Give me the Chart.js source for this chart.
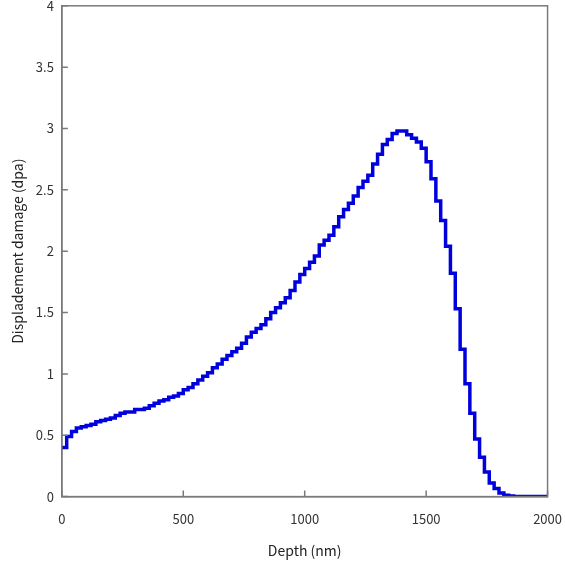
<!DOCTYPE html>
<html>
<head>
<meta charset="utf-8">
<script src="https://cdn.jsdelivr.net/npm/chart.js@4.4.1/dist/chart.umd.min.js"></script>
<style>
  html, body { margin: 0; padding: 0; background: #fff; overflow: hidden; }
  #wrap { position: absolute; left: 0; top: -10px; width: 577px; height: 575px; }
</style>
</head>
<body>
<div id="wrap"><canvas id="chartDpa"></canvas></div>
<script>
// Depth profile of displacement damage, 20 nm bins (bin start depth, nm)
const depth = [
  0, 20, 40, 60, 80, 100, 120, 140, 160, 180,
  200, 220, 240, 260, 280, 300, 320, 340, 360, 380,
  400, 420, 440, 460, 480, 500, 520, 540, 560, 580,
  600, 620, 640, 660, 680, 700, 720, 740, 760, 780,
  800, 820, 840, 860, 880, 900, 920, 940, 960, 980,
  1000, 1020, 1040, 1060, 1080, 1100, 1120, 1140, 1160, 1180,
  1200, 1220, 1240, 1260, 1280, 1300, 1320, 1340, 1360, 1380,
  1400, 1420, 1440, 1460, 1480, 1500, 1520, 1540, 1560, 1580,
  1600, 1620, 1640, 1660, 1680, 1700, 1720, 1740, 1760, 1780,
  1800, 1820, 1840, 1860, 1880, 1900, 1920, 1940, 1960, 1980,
  2000
];

// dpa per bin (last entry closes the final bin at 2000 nm)
const dpa = [
  0.40, 0.49, 0.53, 0.56, 0.57, 0.58, 0.59, 0.61, 0.62, 0.63,
  0.64, 0.66, 0.68, 0.69, 0.69, 0.71, 0.71, 0.72, 0.74, 0.76,
  0.78, 0.79, 0.81, 0.82, 0.84, 0.87, 0.89, 0.92, 0.95, 0.98,
  1.01, 1.05, 1.08, 1.12, 1.15, 1.18, 1.21, 1.25, 1.30, 1.34,
  1.37, 1.40, 1.45, 1.50, 1.54, 1.58, 1.62, 1.68, 1.75, 1.81,
  1.86, 1.91, 1.96, 2.05, 2.09, 2.13, 2.20, 2.28, 2.34, 2.39,
  2.45, 2.52, 2.57, 2.62, 2.71, 2.79, 2.87, 2.91, 2.96, 2.98,
  2.98, 2.95, 2.92, 2.89, 2.84, 2.73, 2.59, 2.41, 2.25, 2.04,
  1.82, 1.53, 1.20, 0.92, 0.68, 0.47, 0.32, 0.20, 0.11, 0.065,
  0.03, 0.01, 0.005, 0, 0, 0, 0, 0, 0, 0,
  0
];

const xTicks = [0, 500, 1000, 1500, 2000];
const yTicks = [0, 0.5, 1, 1.5, 2, 2.5, 3, 3.5, 4];

const axisColor = '#7a7a7a';
const fontFamily = '"Noto Sans CJK JP", "DejaVu Sans", sans-serif';

// frame round the plot + short inward tick marks
const framePlugin = {
  id: 'frame',
  afterDraw(chart) {
    const { ctx, chartArea: a, scales } = chart;
    ctx.save();
    ctx.strokeStyle = axisColor;
    ctx.lineWidth = 1.5;
    ctx.strokeRect(a.left, a.top, a.right - a.left, a.bottom - a.top);
    ctx.beginPath();
    xTicks.forEach(v => {
      const px = scales.x.getPixelForValue(v);
      ctx.moveTo(px, a.bottom);
      ctx.lineTo(px, a.bottom - 6);
    });
    yTicks.forEach(v => {
      const py = scales.y.getPixelForValue(v);
      ctx.moveTo(a.left, py);
      ctx.lineTo(a.left + 6, py);
    });
    ctx.stroke();
    ctx.restore();
  }
};

const ctxDpa = document.getElementById('chartDpa').getContext('2d');
new Chart(ctxDpa, {
  type: 'line',
  data: {
    datasets: [{
      label: 'dpa',
      data: depth.map((d, i) => ({ x: d, y: dpa[i] })),
      borderColor: '#0000dd',
      borderWidth: 3.5,
      pointRadius: 0,
      stepped: 'before',
      fill: false
    }]
  },
  options: {
    responsive: true,
    maintainAspectRatio: false,
    animation: false,
    layout: { padding: { top: 0, right: 0, left: 5, bottom: 2 } },
    plugins: {
      legend: { display: false },
      tooltip: { enabled: false }
    },
    scales: {
      x: {
        type: 'linear',
        min: 0,
        max: 2000,
        afterBuildTicks: s => { s.ticks = xTicks.map(v => ({ value: v })); },
        grid: { display: false, drawTicks: false },
        border: { color: axisColor, width: 1.5 },
        ticks: { color: '#333', padding: 15, font: { family: fontFamily, size: 13 }, callback: v => String(v) },
        title: { display: true, text: 'Depth (nm)', color: '#222', padding: { top: 0 }, font: { family: fontFamily, size: 14 } }
      },
      y: {
        min: 0,
        max: 4,
        afterBuildTicks: s => { s.ticks = yTicks.map(v => ({ value: v })); },
        grid: { display: false, drawTicks: false },
        border: { color: axisColor, width: 1.5 },
        ticks: { color: '#333', padding: 8, font: { family: fontFamily, size: 13 }, callback: v => String(v) },
        title: { display: true, text: 'Displadement damage (dpa)', color: '#222', padding: { bottom: 2 }, font: { family: fontFamily, size: 14 } }
      }
    }
  },
  plugins: [framePlugin]
});
</script>
</body>
</html>
